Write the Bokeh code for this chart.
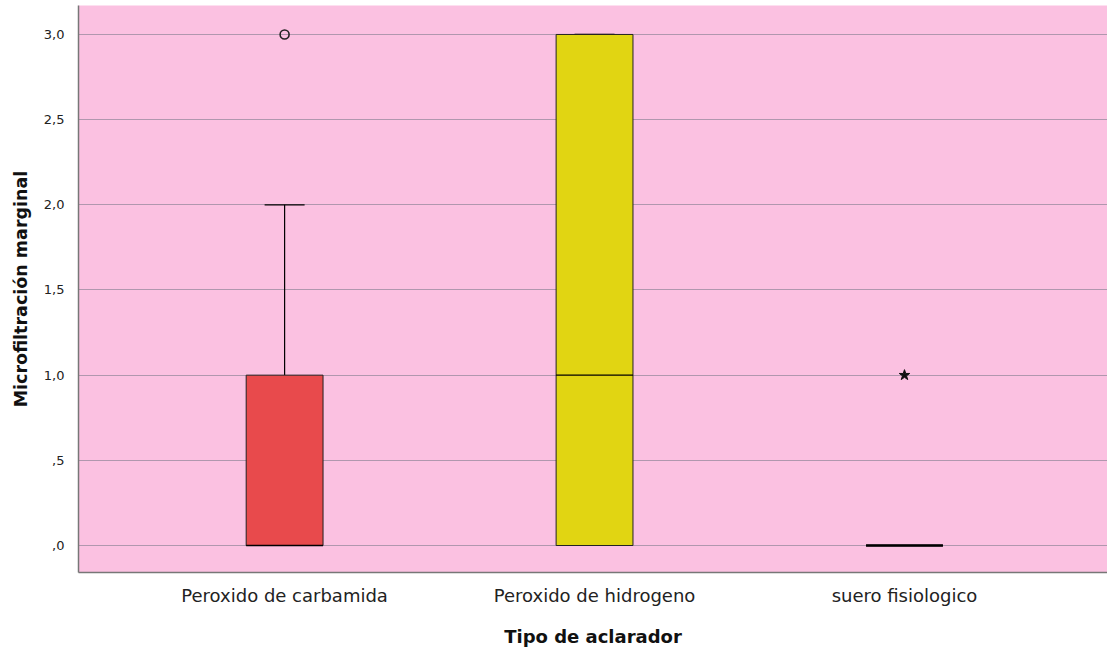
from bokeh.plotting import figure
from bokeh.models import Range1d, FixedTicker, CustomJSTickFormatter, ColumnDataSource
from bokeh.embed import file_html
from bokeh.resources import INLINE

categories = ["Peroxido de carbamida", "Peroxido de hidrogeno", "suero fisiologico"]
positions = [1, 2, 3]
q1 = [0.0, 0.0, 0.0]
median = [0.0, 1.0, 0.0]
q3 = [1.0, 3.0, 0.0]
whisker_low = [0.0, 0.0, 0.0]
whisker_high = [2.0, 3.0, 0.0]
box_colors = ["#E84A4C", "#E1D512", "#E1D512"]
outlier_x = [1]
outlier_y = [3.0]
extreme_x = [3]
extreme_y = [1.0]
y_ticks = [0.0, 0.5, 1.0, 1.5, 2.0, 2.5, 3.0]

FONT = "DejaVu Sans"
BOX_W = 0.248
CAP_W = 0.129

p = figure(width=1107, height=652, output_backend="svg", toolbar_location=None,
           x_range=Range1d(0.335, 3.655), y_range=Range1d(-0.1585, 3.170),
           min_border_left=78, min_border_right=0, min_border_top=5, min_border_bottom=80)
p.background_fill_color = "#FBC1E1"
p.border_fill_color = "white"
p.outline_line_color = None

src = ColumnDataSource(dict(x=positions, q1=q1, med=median, q3=q3, lo=whisker_low,
                            hi=whisker_high, color=box_colors))

# whiskers
p.segment(x0="x", y0="q3", x1="x", y1="hi", source=src, line_color="black", line_width=1.2)
p.segment(x0="x", y0="lo", x1="x", y1="q1", source=src, line_color="black", line_width=1.2)
cap_src = ColumnDataSource(dict(x0=[x - CAP_W / 2 for x in positions],
                                x1=[x + CAP_W / 2 for x in positions], hi=whisker_high))
p.segment(x0="x0", y0="hi", x1="x1", y1="hi", source=cap_src, line_color="black", line_width=1.2)

# boxes
p.vbar(x="x", width=BOX_W, bottom="q1", top="q3", source=src, fill_color="color",
       line_color="#222222", line_width=1)
# medians
p.segment(x0=[x - BOX_W / 2 for x in positions], y0=median,
          x1=[x + BOX_W / 2 for x in positions], y1=median, line_color="black", line_width=1.3)
# extra thick median for degenerate box
p.segment(x0=[positions[2] - BOX_W / 2], y0=[median[2]], x1=[positions[2] + BOX_W / 2],
          y1=[median[2]], line_color="black", line_width=2.5)

# outliers
p.scatter(outlier_x, outlier_y, marker="circle", size=9, fill_color=None,
          line_color="#222222", line_width=1.6)
p.scatter(extreme_x, extreme_y, marker="star", size=11, fill_color="#111111",
          line_color="#111111")

# axes
p.xgrid.grid_line_color = None
p.ygrid.grid_line_color = "#B097AE"
p.ygrid.grid_line_width = 1
p.yaxis.ticker = FixedTicker(ticks=y_ticks)
p.ygrid.ticker = FixedTicker(ticks=y_ticks)
p.yaxis.formatter = CustomJSTickFormatter(code="""
const s = tick.toFixed(1).replace('.', ',');
return s.startsWith('0') ? s.slice(1) : s;
""")
p.xaxis.ticker = FixedTicker(ticks=positions)
p.xaxis.major_label_overrides = {pos: lab for pos, lab in zip(positions, categories)}

for ax in (p.xaxis, p.yaxis):
    ax.major_tick_line_color = None
    ax.minor_tick_line_color = None
    ax.axis_line_color = "#777777"
    ax.axis_line_width = 1.5
    ax.major_label_text_font = FONT
    ax.axis_label_text_font = FONT
    ax.axis_label_text_font_style = "bold"
    ax.axis_label_text_color = "#111111"
    ax.major_label_text_color = "#222222"

p.yaxis.major_label_text_font_size = "13px"
p.yaxis.major_label_standoff = 8
p.yaxis.axis_label = "Microfiltración marginal"
p.yaxis.axis_label_text_font_size = "17.5px"
p.yaxis.axis_label_standoff = 10

p.xaxis.major_label_text_font_size = "18px"
p.xaxis.major_label_standoff = 6
p.xaxis.axis_label = "Tipo de aclarador"
p.xaxis.axis_label_text_font_size = "18px"
p.xaxis.axis_label_standoff = 17

open("out.html", "w").write(file_html(p, INLINE))
